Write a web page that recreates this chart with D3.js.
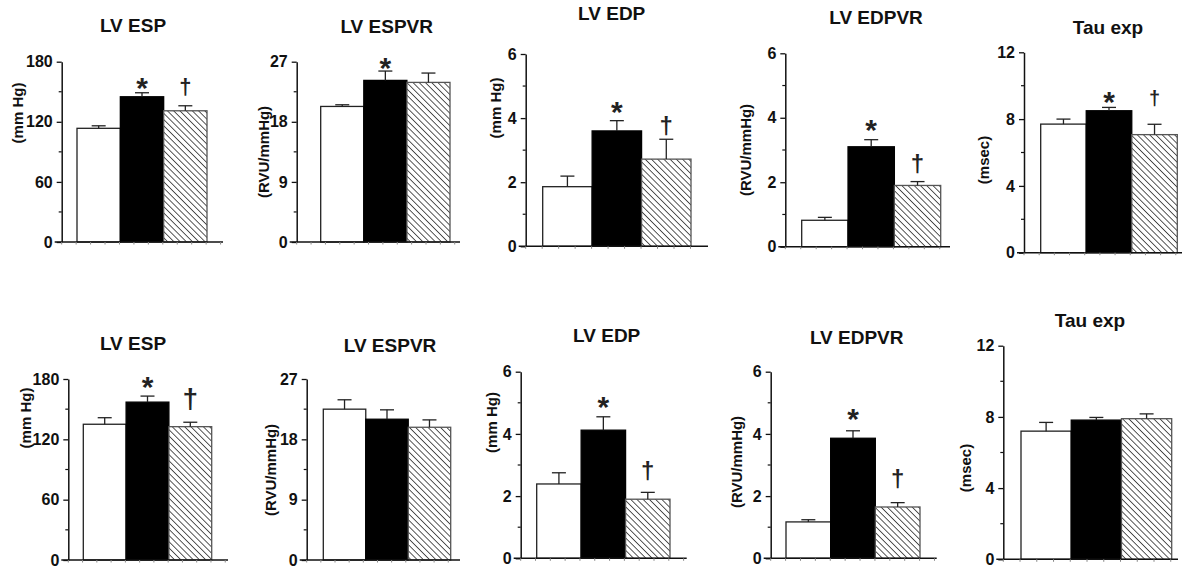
<!DOCTYPE html>
<html><head><meta charset="utf-8">
<script src="https://cdn.jsdelivr.net/npm/d3@7"></script>
<style>
html,body{margin:0;padding:0;background:#fff;}
svg{display:block;}
text{font-family:"Liberation Sans",Arial,Helvetica,sans-serif;}
</style></head>
<body>
<svg id="chart" width="1182" height="568"></svg>
<script>
// ---------- DATA ----------
const groups = ["Control", "Disease", "Treated"];
const panelTitles = ["LV ESP", "LV ESPVR", "LV EDP", "LV EDPVR", "Tau exp"];
const yLabels = ["(mm Hg)", "(RVU/mmHg)", "(mm Hg)", "(RVU/mmHg)", "(msec)"];
const yMax = [180, 27, 6, 6, 12];
const yTicks = [[0, 60, 120, 180], [0, 9, 18, 27], [0, 2, 4, 6], [0, 2, 4, 6], [0, 4, 8, 12]];
const yMinorTicks = [[30, 90, 150], [4.5, 13.5, 22.5], [1, 3, 5], [1, 3, 5], [2, 6, 10]];

const topMeans = [[113.5, 145, 131], [20.3, 24.2, 23.9], [1.86, 3.6, 2.72], [0.82, 3.1, 1.9], [7.7, 8.5, 7.07]];
const topSEM   = [[2.5, 4, 5], [0.25, 1.4, 1.4], [0.33, 0.32, 0.62], [0.09, 0.22, 0.12], [0.3, 0.2, 0.62]];
const topMarks = [["", "*", "†"], ["", "*", ""], ["", "*", "†"], ["", "*", "†"], ["", "*", "†"]];

const bottomMeans = [[135, 157, 132.6], [22.5, 21.0, 19.8], [2.39, 4.12, 1.9], [1.17, 3.86, 1.65], [7.2, 7.82, 7.9]];
const bottomSEM   = [[6.5, 6, 4.4], [1.4, 1.4, 1.1], [0.36, 0.43, 0.22], [0.07, 0.24, 0.14], [0.49, 0.15, 0.27]];
const bottomMarks = [["", "*", "†"], ["", "", ""], ["", "*", "†"], ["", "*", "†"], ["", "", ""]];

// ---------- LAYOUT (positions and sizes only) ----------
const layout = [
  {ax: 61.7, yTop: 61.7, y0: 242, b0: 77, b1: 207, axEnd: 223, tx: 133, ty: 25, lx: 17, ly: 113, sY: 81.7, dY: 88.3, dS: 22},
  {ax: 296.7, yTop: 61.7, y0: 242, b0: 320.7, b1: 450, axEnd: 460, tx: 386.7, ty: 26, lx: 263, ly: 152, sY: 62, dY: 0, dS: 22},
  {ax: 525.7, yTop: 54, y0: 246.3, b0: 542.7, b1: 691, axEnd: 708, tx: 611.7, ty: 13.3, lx: 495, ly: 108, sY: 106, dY: 127.5, dS: 24},
  {ax: 785.3, yTop: 53.3, y0: 246.7, b0: 801.7, b1: 940.7, axEnd: 950, tx: 876, ty: 16.7, lx: 745, ly: 150, sY: 124, dY: 166, dS: 24},
  {ax: 1024, yTop: 52.3, y0: 252.7, b0: 1040.7, b1: 1177.3, axEnd: 1182, tx: 1108, ty: 26.7, lx: 983, ly: 160, sY: 95.7, dY: 100, dS: 20},
  {ax: 68.3, yTop: 379, y0: 560, b0: 83.3, b1: 211.7, axEnd: 228, tx: 133, ty: 342.7, lx: 25, ly: 418, sY: 380.5, dY: 400.5, dS: 28},
  {ax: 306.7, yTop: 379, y0: 560, b0: 323.3, b1: 450.7, axEnd: 460, tx: 390, ty: 345, lx: 270, ly: 470, sY: 0, dY: 0, dS: 24},
  {ax: 520.7, yTop: 371.7, y0: 558.3, b0: 536.7, b1: 670, axEnd: 686.7, tx: 606.7, ty: 335, lx: 491.7, ly: 422.5, sY: 400.5, dY: 472.5, dS: 24},
  {ax: 770.7, yTop: 371.7, y0: 558.3, b0: 786, b1: 920, axEnd: 936.7, tx: 856.7, ty: 336.7, lx: 736.7, ly: 462, sY: 413.3, dY: 481, dS: 24},
  {ax: 1003.3, yTop: 345.7, y0: 559.3, b0: 1021, b1: 1171.7, axEnd: 1178, tx: 1090, ty: 320, lx: 965, ly: 468, sY: 0, dY: 0, dS: 24}
];

const svg = d3.select("#chart");
const defs = svg.append("defs");
const pat = defs.append("pattern")
  .attr("id", "hatch").attr("patternUnits", "userSpaceOnUse")
  .attr("width", 4.4).attr("height", 4.4)
  .attr("patternTransform", "rotate(-45)");
pat.append("rect").attr("width", 4.4).attr("height", 4.4).attr("fill", "#fff");
pat.append("line").attr("x1", 0).attr("y1", 0).attr("x2", 0).attr("y2", 4.4)
  .attr("stroke", "#111").attr("stroke-width", 1.4);

const fills = ["#fff", "#000", "url(#hatch)"];
const strokes = ["#222", "#000", "#555"];

const panels = [];
for (let r = 0; r < 2; r++) {
  for (let i = 0; i < 5; i++) {
    panels.push({
      title: panelTitles[i], ylab: yLabels[i], max: yMax[i], ticks: yTicks[i], minor: yMinorTicks[i],
      means: r === 0 ? topMeans[i] : bottomMeans[i],
      sem: r === 0 ? topSEM[i] : bottomSEM[i],
      marks: r === 0 ? topMarks[i] : bottomMarks[i],
      L: layout[r * 5 + i]
    });
  }
}

panels.forEach(p => {
  const L = p.L;
  const g = svg.append("g");
  const y = d3.scaleLinear().domain([0, p.max]).range([L.y0, L.yTop]);
  const x = d3.scaleBand().domain(groups).range([L.b0, L.b1]).paddingInner(0).paddingOuter(0);
  const bw = x.bandwidth();

  groups.forEach((grp, k) => {
    g.append("rect")
      .attr("x", x(grp)).attr("y", y(p.means[k]))
      .attr("width", bw).attr("height", L.y0 - y(p.means[k]))
      .attr("fill", fills[k]).attr("stroke", strokes[k]).attr("stroke-width", 1.3);
    const cx = x(grp) + bw / 2;
    const eTop = y(p.means[k] + p.sem[k]);
    g.append("line").attr("x1", cx).attr("x2", cx)
      .attr("y1", y(p.means[k])).attr("y2", eTop)
      .attr("stroke", "#222").attr("stroke-width", 1.3);
    g.append("line").attr("x1", cx - 7).attr("x2", cx + 7)
      .attr("y1", eTop).attr("y2", eTop)
      .attr("stroke", "#222").attr("stroke-width", 1.3);
    const m = p.marks[k];
    if (m === "*") {
      g.append("text").attr("x", cx).attr("y", L.sY + 16)
        .attr("text-anchor", "middle").attr("font-size", 30).attr("font-weight", "bold")
        .attr("fill", "#222").text("*");
    } else if (m === "†") {
      g.append("text").attr("x", cx).attr("y", L.dY + 0.27 * L.dS)
        .attr("text-anchor", "middle").attr("font-size", L.dS).attr("font-weight", "bold")
        .attr("fill", "#222").text("†");
    }
  });

  const yAxis = d3.axisLeft(y).tickValues(p.ticks).tickFormat(d3.format("~g"))
    .tickSize(5).tickPadding(4).tickSizeOuter(0);
  const ya = g.append("g").attr("transform", `translate(${L.ax},0)`).call(yAxis);
  ya.select(".domain").attr("stroke", "#111").attr("stroke-width", 1.5);
  ya.selectAll(".tick line").attr("stroke", "#111").attr("stroke-width", 1.3);
  ya.selectAll(".tick text").attr("font-size", 16).attr("font-weight", "bold")
    .attr("fill", "#111").attr("font-family", "'Liberation Sans', Arial, sans-serif");
  g.selectAll(null).data(p.minor).enter().append("line")
    .attr("x1", L.ax - 3).attr("x2", L.ax)
    .attr("y1", d => y(d)).attr("y2", d => y(d))
    .attr("stroke", "#111").attr("stroke-width", 1.2);

  g.append("line").attr("x1", L.ax - 7).attr("x2", L.axEnd)
    .attr("y1", L.y0).attr("y2", L.y0)
    .attr("stroke", "#111").attr("stroke-width", 1.6);
  const xt = d3.range(L.ax, L.axEnd - 2, bw / 3);
  g.selectAll(null).data(xt).enter().append("line")
    .attr("x1", d => d).attr("x2", d => d)
    .attr("y1", L.y0).attr("y2", L.y0 + 2.5)
    .attr("stroke", "#888").attr("stroke-width", 1);

  g.append("text").attr("x", L.tx).attr("y", L.ty + 7)
    .attr("text-anchor", "middle").attr("font-size", 19).attr("font-weight", "bold")
    .attr("fill", "#111").text(p.title);
  g.append("text").attr("transform", `translate(${L.lx},${L.ly}) rotate(-90)`)
    .attr("text-anchor", "middle").attr("dominant-baseline", "central")
    .attr("font-size", 15).attr("font-weight", "bold")
    .attr("fill", "#111").text(p.ylab);
});
</script>
</body></html>
